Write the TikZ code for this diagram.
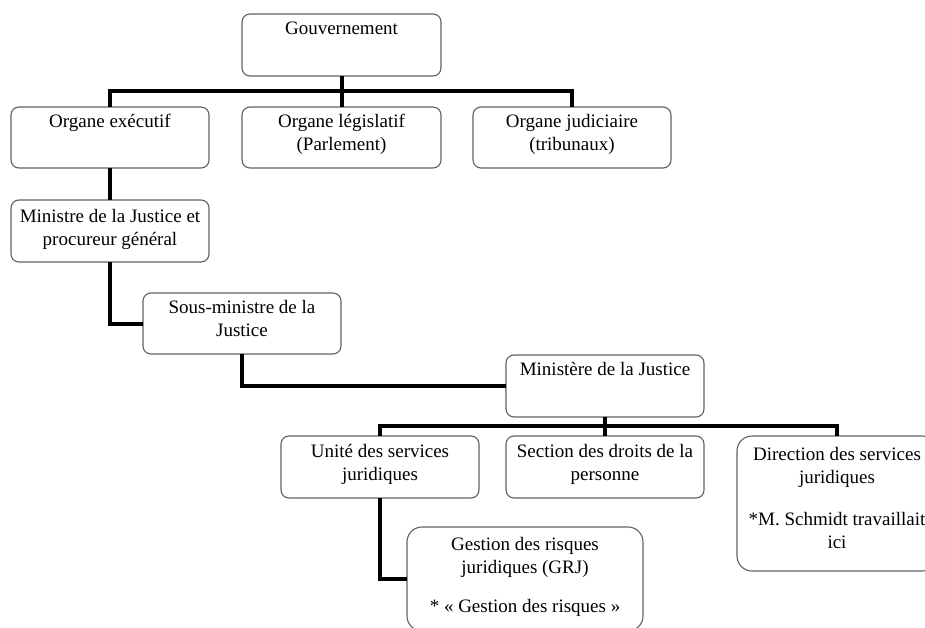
\documentclass[tikz,border=0pt]{standalone}
\usepackage{fontspec}
\setmainfont{Liberation Serif}
\begin{document}
\begin{tikzpicture}[x=1pt,y=-1pt,
  box/.style={draw=black!62, line width=1.1pt, rounded corners=8pt, inner sep=0pt, outer sep=0pt, anchor=north west},
  bigbox/.style={box, rounded corners=15pt},
  txt/.style={font=\fontsize{19}{22.7}\selectfont, align=center, inner sep=0pt, anchor=north},
  conn/.style={line width=4pt, line join=miter}]
\useasboundingbox (0,0) rectangle (925,628);
\clip (0,0) rectangle (925,628);
% boxes
\node[box, minimum width=199pt, minimum height=62pt] (gov) at (242,14) {};
\node[box, minimum width=198pt, minimum height=61pt] (exe) at (11,107) {};
\node[box, minimum width=199pt, minimum height=61pt] (leg) at (242,107) {};
\node[box, minimum width=198pt, minimum height=61pt] (jud) at (473,107) {};
\node[box, minimum width=198pt, minimum height=62pt] (min) at (11,200) {};
\node[box, minimum width=198pt, minimum height=61pt] (sous) at (143,293) {};
\node[box, minimum width=198pt, minimum height=62pt] (mjus) at (506,355) {};
\node[box, minimum width=198pt, minimum height=62pt] (unite) at (281,436) {};
\node[box, minimum width=198pt, minimum height=62pt] (sect) at (506,436) {};
\node[bigbox, minimum width=200pt, minimum height=135pt] (dir) at (737,436) {};
\node[bigbox, minimum width=236pt, minimum height=104pt] (grj) at (407,527) {};
% texts
\node[txt] (govt) at ([yshift=-8pt]gov.north) {Gouvernement};
\node[txt] (exet) at ([yshift=-7pt]exe.north) {Organe exécutif};
\node[txt] (legt) at ([yshift=-7pt]leg.north) {Organe législatif\\(Parlement)};
\node[txt] (judt) at ([yshift=-7pt]jud.north) {Organe judiciaire\\(tribunaux)};
\node[txt] (mint) at ([yshift=-9pt]min.north) {Ministre de la Justice et\\procureur général};
\node[txt] (soust) at ([yshift=-7pt]sous.north) {Sous-ministre de la\\Justice};
\node[txt] (mjust) at ([yshift=-7pt]mjus.north) {Ministère de la Justice};
\node[txt] (unitet) at ([yshift=-8pt]unite.north) {Unité des services\\juridiques};
\node[txt] (sectt) at ([yshift=-8pt]sect.north) {Section des droits de la\\personne};
\node[txt] (dirt) at ([yshift=-11pt]dir.north) {Direction des services\\juridiques\\[20pt]*M. Schmidt travaillait\\ici};
\node[txt] (grjt) at ([yshift=-10pt]grj.north) {Gestion des risques\\juridiques (GRJ)\\[17pt]* « Gestion des risques »};
% connectors
\coordinate (b1) at (gov.south |- 0,91);
\draw[conn] (gov.south) -- (b1);
\draw[conn] (exe.north) |- (b1) -| (jud.north);
\draw[conn] (b1) -- (leg.north);
\draw[conn] (exe.south) -- (min.north);
\draw[conn] (min.south) |- (sous.west);
\draw[conn] (sous.south) |- (mjus.west);
\coordinate (b2) at (mjus.south |- 0,426);
\draw[conn] (mjus.south) -- (b2);
\draw[conn] (unite.north) |- (b2) -| (dir.north);
\draw[conn] (b2) -- (sect.north);
\draw[conn] (unite.south) |- (grj.west);
\end{tikzpicture}
\end{document}
